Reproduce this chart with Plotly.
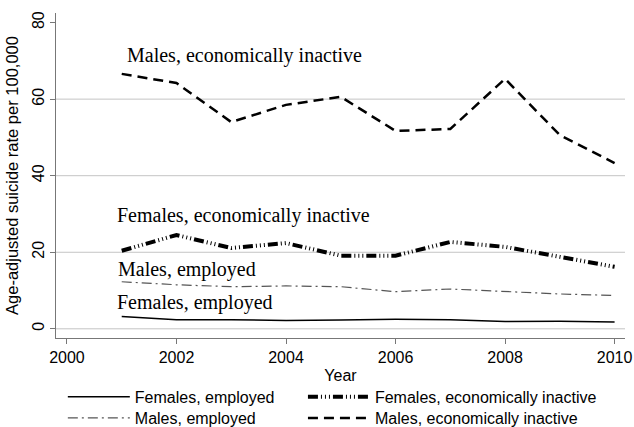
import plotly.graph_objects as go

years = [2001, 2002, 2003, 2004, 2005, 2006, 2007, 2008, 2009, 2010]
females_employed = [3.2, 2.4, 2.4, 2.2, 2.3, 2.5, 2.4, 1.9, 2.0, 1.8]
males_employed = [12.3, 11.5, 11.0, 11.2, 11.0, 9.7, 10.4, 9.8, 9.1, 8.7]
females_inactive = [20.4, 24.5, 21.1, 22.4, 19.1, 19.1, 22.7, 21.4, 18.8, 16.2]
males_inactive = [66.6, 64.2, 54.0, 58.5, 60.6, 51.7, 52.2, 65.3, 50.6, 43.3]

series_names = ["Females, employed", "Females, economically inactive",
                "Males, employed", "Males, economically inactive"]
x_ticks = [2000, 2002, 2004, 2006, 2008, 2010]
y_ticks = [0, 20, 40, 60, 80]
grid_values = [0, 20, 40, 60]

# in-plot labels: (text, x, y)
labels = [
    ("Males, economically inactive", 2001.06, 71.3),
    ("Females, economically inactive", 2000.88, 29.7),
    ("Males, employed", 2000.89, 15.6),
    ("Females, employed", 2000.88, 7.0),
]

fig = go.Figure()
fig.add_trace(go.Scatter(x=years, y=females_employed, mode="lines", name=series_names[0],
                         legend="legend",
                         line=dict(color="black", width=1.5)))
fig.add_trace(go.Scatter(x=years, y=females_inactive, mode="lines", name=series_names[1],
                         legend="legend2",
                         line=dict(color="black", width=4,
                                   dash="10px,3px,1px,3px,1px,3px,1px,3px")))
fig.add_trace(go.Scatter(x=years, y=males_employed, mode="lines", name=series_names[2],
                         legend="legend3",
                         line=dict(color="#555555", width=1.2, dash="10px,4px,2px,4px")))
fig.add_trace(go.Scatter(x=years, y=males_inactive, mode="lines", name=series_names[3],
                         legend="legend4",
                         line=dict(color="black", width=2.5, dash="10px,6px")))

for g in grid_values:
    fig.add_shape(type="line", xref="paper", x0=0, x1=1, yref="y", y0=g, y1=g,
                  line=dict(color="#c4c4c4", width=1), layer="below")

for text, lx, ly in labels:
    fig.add_annotation(x=lx, y=ly, text=text, showarrow=False, xanchor="left",
                       yanchor="middle",
                       font=dict(family="Liberation Serif", size=20, color="black"))

legend_common = dict(orientation="v", xanchor="left", yanchor="top",
                     itemwidth=62, tracegroupgap=0,
                     font=dict(size=16), bgcolor="rgba(0,0,0,0)")

fig.update_layout(
    width=634, height=427,
    margin=dict(l=56, r=9, t=13, b=89, autoexpand=False),
    plot_bgcolor="white", paper_bgcolor="white",
    font=dict(family="Liberation Sans", size=16, color="black"),
    showlegend=True,
    legend=dict(x=0.012, y=-0.129, **legend_common),
    legend2=dict(x=0.434, y=-0.129, **legend_common),
    legend3=dict(x=0.012, y=-0.194, **legend_common),
    legend4=dict(x=0.434, y=-0.194, **legend_common),
    xaxis=dict(range=[1999.8, 2010.19], tickvals=x_ticks, showgrid=False, zeroline=False,
               showline=True, linecolor="#777777", linewidth=1.2,
               ticks="outside", ticklen=5, tickcolor="#777777",
               title=dict(text="Year", standoff=4, font=dict(size=16))),
    yaxis=dict(range=[-2.4, 82.5], tickvals=y_ticks, showgrid=False, zeroline=False,
               showline=True, linecolor="#777777", linewidth=1.2,
               ticks="outside", ticklen=5, tickcolor="#777777", tickangle=-90,
               title=dict(text="Age-adjusted suicide rate per 100,000", standoff=6,
                          font=dict(size=16.5))),
)

fig.write_html("out.html")
